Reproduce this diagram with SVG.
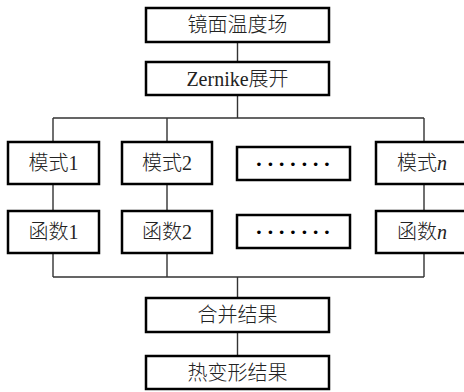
<svg xmlns="http://www.w3.org/2000/svg" width="464" height="392" viewBox="0 0 464 392">
<style>
.box{fill:#fff;stroke:#000;stroke-width:2.5}
.ln{fill:none;stroke:#333;stroke-width:1.4}
.t{font-size:20px;fill:#222;text-anchor:middle}
.c{font-family:"Noto Sans CJK SC",sans-serif;font-weight:300}
.l{font-family:"Liberation Serif","Times New Roman","DejaVu Serif",serif;font-weight:normal}
.d{font-family:"Liberation Serif",serif;font-size:22px;fill:#000;font-weight:bold;text-anchor:middle}
.i{font-style:italic}
</style>
<rect width="464" height="392" fill="#fff"/>
<g id="connectors">
<path class="ln" d="M237.5 42V62M237.5 95V118M53 118H424M53 118V142M167 118V142M424 118V142M53 184V211M167 184V211M424 184V211M53 253V277M167 253V277M424 253V277M53 277H424M237.5 277V298M237.5 332V356"/>
</g>
<g id="n1"><rect class="box" x="146" y="8" width="183" height="34"/><text class="t c" x="237.5" y="32">镜面温度场</text></g>
<g id="n2"><rect class="box" x="146" y="62" width="183" height="33"/><text class="t" x="237.5" y="86"><tspan class="l">Zernike</tspan><tspan class="c">展开</tspan></text></g>
<g id="m1"><rect class="box" x="8" y="142" width="91" height="42"/><text class="t" x="53.5" y="170"><tspan class="c">模式</tspan><tspan class="l">1</tspan></text></g>
<g id="m2"><rect class="box" x="122" y="142" width="90" height="42"/><text class="t" x="167" y="170"><tspan class="c">模式</tspan><tspan class="l">2</tspan></text></g>
<g id="m3"><rect class="box" x="237" y="147" width="113" height="33"/><text class="d" x="259 270.3 281.7 293 304.3 315.7 327" y="171">·······</text></g>
<g id="mn"><rect class="box" x="376" y="142" width="96" height="42"/><text class="t" x="422" y="170"><tspan class="c">模式</tspan><tspan class="l i">n</tspan></text></g>
<g id="f1"><rect class="box" x="8" y="211" width="91" height="42"/><text class="t" x="53.5" y="239"><tspan class="c">函数</tspan><tspan class="l">1</tspan></text></g>
<g id="f2"><rect class="box" x="122" y="211" width="90" height="42"/><text class="t" x="167" y="239"><tspan class="c">函数</tspan><tspan class="l">2</tspan></text></g>
<g id="f3"><rect class="box" x="237" y="215" width="113" height="33"/><text class="d" x="259 270.3 281.7 293 304.3 315.7 327" y="239">·······</text></g>
<g id="fn"><rect class="box" x="376" y="211" width="96" height="42"/><text class="t" x="422" y="239"><tspan class="c">函数</tspan><tspan class="l i">n</tspan></text></g>
<g id="n3"><rect class="box" x="146" y="298" width="183" height="34"/><text class="t c" x="237.5" y="322">合并结果</text></g>
<g id="n4"><rect class="box" x="146" y="356" width="183" height="33"/><text class="t c" x="237.5" y="380">热变形结果</text></g>
</svg>
